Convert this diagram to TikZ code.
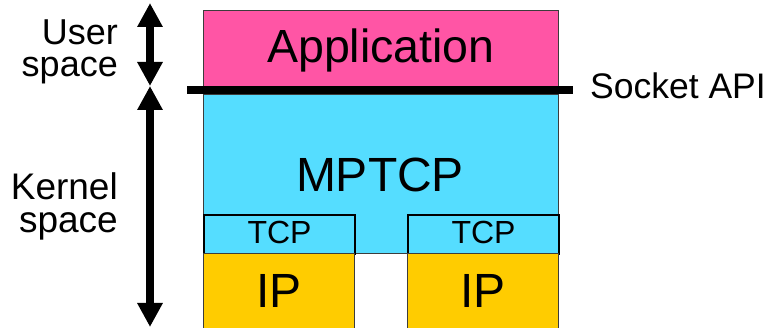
\documentclass[tikz,border=0pt]{standalone}
\usepackage{fontspec}
\setmainfont{Liberation Sans}
\usetikzlibrary{arrows.meta}

\definecolor{apppink}{RGB}{255,85,165}
\definecolor{mpcyan}{RGB}{85,221,255}
\definecolor{ipyellow}{RGB}{255,204,0}
\definecolor{edgegray}{RGB}{60,60,60}

\tikzset{
  layer/.style={draw=edgegray, line width=1pt, inner sep=0pt, anchor=north west},
  subflow/.style={draw=black, line width=2pt, inner sep=0pt, anchor=north west,
    fill=mpcyan, minimum width=151pt, minimum height=39pt},
  iplayer/.style={layer, fill=ipyellow, minimum width=151pt, minimum height=75pt},
  boxtext/.style={anchor=base, inner sep=0pt},
  spacelabel/.style={align=right, anchor=base east, inner sep=0pt,
    font=\fontsize{36}{32}\selectfont},
  span/.style={line width=8pt, {Triangle[width=24pt,length=24pt]}-{Triangle[width=24pt,length=24pt]}}
}

\begin{document}
\begin{tikzpicture}[x=1pt, y=-1pt]
\useasboundingbox (0,0) rectangle (776,328);

% protocol layers
\node[layer, fill=mpcyan, minimum width=355pt, minimum height=159pt] (mptcp) at (203,94) {};
\node[boxtext, font=\fontsize{48}{48}\selectfont] (mptcplabel) at (380,192) {MPTCP};
\node[layer, fill=apppink, minimum width=355pt, minimum height=76pt] (app) at (203,10) {};
\node[boxtext, font=\fontsize{46.5}{46.5}\selectfont] (applabel) at (381,63) {Application};
\node[subflow] (tcpa) at (203,214) {};
\node[subflow] (tcpb) at (407,214) {};
\node[boxtext, font=\fontsize{32}{32}\selectfont] (tcpalabel) at (tcpa.center |- 0,244) {TCP};
\node[boxtext, font=\fontsize{32}{32}\selectfont] (tcpblabel) at (tcpb.center |- 0,244) {TCP};
\node[iplayer] (ipa) at (203,253) {};
\node[iplayer] (ipb) at (407,253) {};
\node[boxtext, font=\fontsize{48}{48}\selectfont] (ipalabel) at (ipa.center |- 0,308) {IP};
\node[boxtext, font=\fontsize{48}{48}\selectfont] (ipblabel) at (ipb.center |- 0,308) {IP};

% socket API boundary
\coordinate (apil) at (187,90);
\coordinate (apir) at (573,90);
\draw[line width=8pt] (apil) -- (apir);
\node[anchor=base west, inner sep=0pt, font=\fontsize{35.5}{35.5}\selectfont] (api) at (590,99) {Socket API};

% user / kernel extents
\coordinate (utop) at (150,3);
\coordinate (umid) at (150,86);
\coordinate (kbot) at (150,327);
\draw[span] (utop) -- (umid);
\draw[span] (umid) -- (kbot);

\node[spacelabel] (user) at (118,77) {User\\space};
\node[spacelabel, font=\fontsize{37}{33}\selectfont] (kernel) at (118,233) {Kernel\\space};
\end{tikzpicture}
\end{document}
